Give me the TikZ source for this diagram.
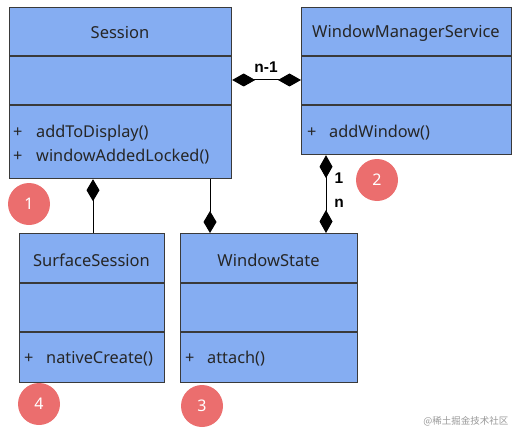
\documentclass[tikz,border=0pt]{standalone}
\usepackage{fontspec}
\setmainfont{Noto Sans}
\newfontfamily\labelfont{Liberation Sans}
\newfontfamily\cjk{Noto Sans CJK SC}
\usetikzlibrary{arrows.meta}
\definecolor{boxfill}{HTML}{85ADF2}
\definecolor{boxline}{HTML}{3A3A3A}
\definecolor{badge}{HTML}{EB6E6E}
\tikzset{
  classbox/.style={draw=boxline, line width=1.2pt, fill=boxfill, anchor=north west, inner sep=0pt},
  sep/.style={draw=boxline, line width=1.2pt},
  title/.style={font=\fontsize{16.5}{19}\selectfont, text=black!85, anchor=center},
  meth/.style={font=\fontsize{16.3}{19}\selectfont, text=black!85, anchor=base west, inner sep=0pt},
  badgenode/.style={circle, fill=badge, minimum size=42pt, inner sep=0pt, text=white, font=\fontsize{16}{18}\selectfont},
  agg/.style={line width=1pt, draw=black, {Diamond[length=23pt,width=13pt]}-{Diamond[length=23pt,width=13pt]}},
  aggone/.style={line width=1pt, draw=black, {Diamond[length=22pt,width=13pt]}-},
  aggend/.style={line width=1pt, draw=black, -{Diamond[length=22pt,width=13pt]}},
  mult/.style={font=\labelfont\bfseries\fontsize{15.5}{17}\selectfont, inner sep=0pt}
}
\begin{document}
\begin{tikzpicture}[x=1pt,y=-1pt]
\useasboundingbox (0,0) rectangle (518,433);
% boxes
\node[classbox, minimum width=222pt, minimum height=171pt] (session) at (9,7) {};
\node[classbox, minimum width=210pt, minimum height=147pt] (wms) at (301,7) {};
\node[classbox, minimum width=145pt, minimum height=149pt] (surf) at (19,233) {};
\node[classbox, minimum width=177pt, minimum height=149pt] (ws) at (180,233) {};
% separators
\draw[sep] (9,56) -- (231,56) (9,105) -- (231,105);
\draw[sep] (301,56) -- (511,56) (301,105) -- (511,105);
\draw[sep] (19,283) -- (164,283) (19,332) -- (164,332);
\draw[sep] (180,283) -- (357,283) (180,332) -- (357,332);
% titles
\node[title] (tsession) at (120,33) {Session};
\node[title] (twms) at (406,33) {WindowManagerService};
\node[title] (tsurf) at (91.5,260) {SurfaceSession};
\node[title] (tws) at (268.5,260) {WindowState};
% methods
\node[meth] (p1) at (13,137) {+};
\node[meth] (m1) at (36,137) {addToDisplay()};
\node[meth] (p2) at (13,161) {+};
\node[meth] (m2) at (36,161) {windowAddedLocked()};
\node[meth] (p3) at (307,137) {+};
\node[meth] (m3) at (329,137) {addWindow()};
\node[meth] (p4) at (24,363) {+};
\node[meth] (m4) at (46,363) {nativeCreate()};
\node[meth] (p5) at (185,363) {+};
\node[meth] (m5) at (207,363) {attach()};
% connectors
\draw[agg] ([yshift=-73pt]session.north east) -- ([yshift=-73pt]wms.north west);
\node[mult] (lnm) at (266,67) {n-1};
\draw[agg] ([xshift=25pt]wms.south west) -- ([xshift=146pt]ws.north west);
\node[mult] (l1) at (339,178) {1};
\node[mult] (ln) at (339,203) {n};
\draw[aggone] ([xshift=84pt]session.south west) -- ([xshift=74pt]surf.north west);
\draw[aggend] ([xshift=201pt]session.south west) -- ([xshift=30pt]ws.north west);
% badges
\node[badgenode] (b1) at (29,204) {1};
\node[badgenode] (b2) at (377,180) {2};
\node[badgenode] (b3) at (202,406) {3};
\node[badgenode] (b4) at (39,404) {4};
% watermark
\node[font=\cjk\fontsize{9.5}{11}\selectfont, text=black!40, anchor=east] (wm) at (512,421) {@稀土掘金技术社区};
\end{tikzpicture}
\end{document}
